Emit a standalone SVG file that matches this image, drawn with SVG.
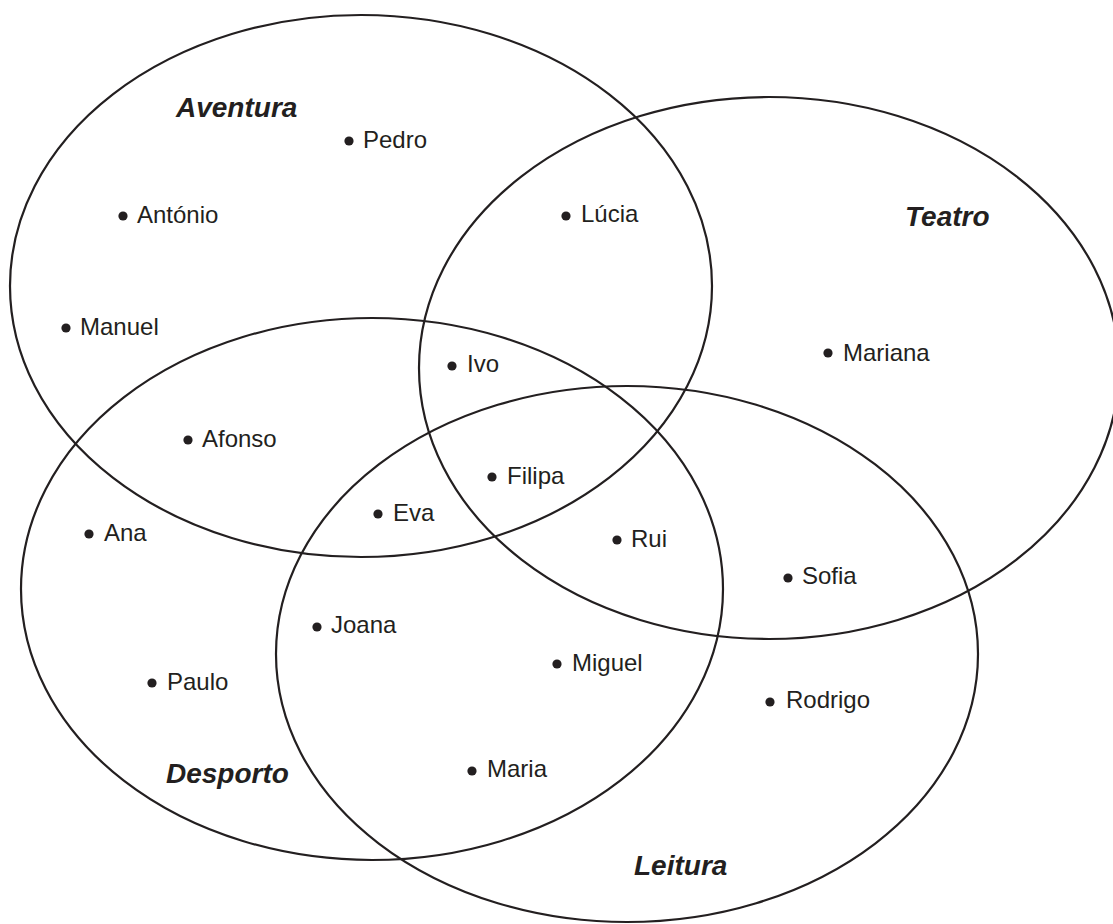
<svg xmlns="http://www.w3.org/2000/svg" width="1113" height="924" viewBox="0 0 1113 924">
<style>
.set{fill:none;stroke:#231f20;stroke-width:2.2}
.lbl{font-family:"Liberation Sans",Arial,sans-serif;font-size:28px;font-weight:bold;font-style:italic;fill:#231f20}
.nm{font-family:"Liberation Sans",Arial,sans-serif;font-size:24px;fill:#231f20}
.dot{fill:#231f20}
</style>
<rect width="1113" height="924" fill="#fff"/>
<g id="sets">
<ellipse id="aventura" class="set" cx="361" cy="286" rx="351" ry="271"/>
<ellipse id="teatro" class="set" cx="769" cy="368" rx="350" ry="271"/>
<ellipse id="desporto" class="set" cx="372" cy="589" rx="351" ry="271"/>
<ellipse id="leitura" class="set" cx="627" cy="654" rx="351" ry="268"/>
</g>
<g id="labels">
<text class="lbl" x="176" y="117">Aventura</text>
<text class="lbl" x="905" y="226">Teatro</text>
<text class="lbl" x="166" y="783">Desporto</text>
<text class="lbl" x="634" y="875">Leitura</text>
</g>
<g id="n-pedro"><circle class="dot" cx="349" cy="141" r="4.6"/><text class="nm" x="363" y="148">Pedro</text></g>
<g id="n-antonio"><circle class="dot" cx="123" cy="216" r="4.6"/><text class="nm" x="137" y="223">António</text></g>
<g id="n-lucia"><circle class="dot" cx="566" cy="216" r="4.6"/><text class="nm" x="581" y="222">Lúcia</text></g>
<g id="n-manuel"><circle class="dot" cx="66" cy="328" r="4.6"/><text class="nm" x="80" y="335">Manuel</text></g>
<g id="n-mariana"><circle class="dot" cx="828" cy="353" r="4.6"/><text class="nm" x="843" y="361">Mariana</text></g>
<g id="n-ivo"><circle class="dot" cx="452" cy="366" r="4.6"/><text class="nm" x="467" y="372">Ivo</text></g>
<g id="n-afonso"><circle class="dot" cx="188" cy="440" r="4.6"/><text class="nm" x="202" y="447">Afonso</text></g>
<g id="n-filipa"><circle class="dot" cx="492" cy="477" r="4.6"/><text class="nm" x="507" y="484">Filipa</text></g>
<g id="n-eva"><circle class="dot" cx="378" cy="514" r="4.6"/><text class="nm" x="393" y="521">Eva</text></g>
<g id="n-ana"><circle class="dot" cx="89" cy="534" r="4.6"/><text class="nm" x="104" y="541">Ana</text></g>
<g id="n-rui"><circle class="dot" cx="617" cy="540" r="4.6"/><text class="nm" x="631" y="547">Rui</text></g>
<g id="n-sofia"><circle class="dot" cx="788" cy="578" r="4.6"/><text class="nm" x="802" y="584">Sofia</text></g>
<g id="n-joana"><circle class="dot" cx="317" cy="627" r="4.6"/><text class="nm" x="331" y="633">Joana</text></g>
<g id="n-miguel"><circle class="dot" cx="557" cy="664" r="4.6"/><text class="nm" x="572" y="671">Miguel</text></g>
<g id="n-paulo"><circle class="dot" cx="152" cy="683" r="4.6"/><text class="nm" x="167" y="690">Paulo</text></g>
<g id="n-rodrigo"><circle class="dot" cx="770" cy="702" r="4.6"/><text class="nm" x="786" y="708">Rodrigo</text></g>
<g id="n-maria"><circle class="dot" cx="472" cy="771" r="4.6"/><text class="nm" x="487" y="777">Maria</text></g>
</svg>
